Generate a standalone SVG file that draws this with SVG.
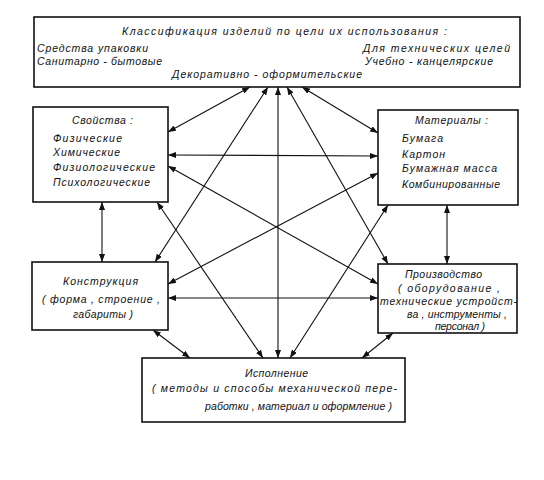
<svg xmlns="http://www.w3.org/2000/svg" width="544" height="480" viewBox="0 0 544 480">
<defs>
<marker id="ah" viewBox="0 0 8 6" refX="8" refY="3" markerWidth="8" markerHeight="6" markerUnits="userSpaceOnUse" orient="auto-start-reverse">
<path d="M0,0 L8,3 L0,6 z" fill="#111"/>
</marker>
<style>
.box{fill:#fff;stroke:#111;stroke-width:1.6}
.t{font-family:"Liberation Sans","DejaVu Sans",sans-serif;font-style:italic;font-size:10.5px;fill:#111}
.c{text-anchor:middle}
.ln{stroke:#111;stroke-width:1.1;fill:none;marker-start:url(#ah);marker-end:url(#ah)}
</style>
</defs>
<rect width="544" height="480" fill="#fff"/>
<g id="connectors">
<line class="ln" x1="250" y1="87" x2="168" y2="132"/>
<line class="ln" x1="302" y1="87" x2="378" y2="133"/>
<line class="ln" x1="168" y1="155" x2="378" y2="156"/>
<line class="ln" x1="168" y1="166" x2="378" y2="284"/>
<line class="ln" x1="378" y1="173" x2="168" y2="284"/>
<line class="ln" x1="268" y1="87" x2="155" y2="262"/>
<line class="ln" x1="287" y1="87" x2="388" y2="264"/>
<line class="ln" x1="278" y1="87" x2="278" y2="358"/>
<line class="ln" x1="157" y1="202" x2="263" y2="358"/>
<line class="ln" x1="388" y1="205" x2="290" y2="358"/>
<line class="ln" x1="168" y1="298" x2="378" y2="298"/>
<line class="ln" x1="153" y1="330" x2="190" y2="358"/>
<line class="ln" x1="393" y1="333" x2="362" y2="358"/>
<line class="ln" x1="102" y1="202" x2="102" y2="262"/>
<line class="ln" x1="447" y1="205" x2="447" y2="264"/>
</g>
<g id="classification">
<rect class="box" x="34" y="17" width="486" height="70"/>
<text class="t" x="122" y="35" textLength="325" lengthAdjust="spacing">Классификация изделий по цели их использования :</text>
<text class="t" x="37" y="52" textLength="111" lengthAdjust="spacing">Средства упаковки</text>
<text class="t" x="37" y="65" textLength="125" lengthAdjust="spacing">Санитарно - бытовые</text>
<text class="t" x="363" y="52" textLength="147" lengthAdjust="spacing">Для технических целей</text>
<text class="t" x="365" y="65" textLength="128" lengthAdjust="spacing">Учебно - канцелярские</text>
<text class="t" x="172" y="78" textLength="190" lengthAdjust="spacing">Декоративно - оформительские</text>
</g>
<g id="svoistva">
<rect class="box" x="33" y="107" width="135" height="95"/>
<text class="t" x="72" y="124" textLength="61" lengthAdjust="spacing">Свойства :</text>
<text class="t" x="53" y="142" textLength="69" lengthAdjust="spacing">Физические</text>
<text class="t" x="53" y="156" textLength="67" lengthAdjust="spacing">Химические</text>
<text class="t" x="53" y="171" textLength="102" lengthAdjust="spacing">Физиологические</text>
<text class="t" x="53" y="186" textLength="97" lengthAdjust="spacing">Психологические</text>
</g>
<g id="materialy">
<rect class="box" x="378" y="110" width="140" height="95"/>
<text class="t" x="415" y="124" textLength="73" lengthAdjust="spacing">Материалы :</text>
<text class="t" x="402" y="142" textLength="41" lengthAdjust="spacing">Бумага</text>
<text class="t" x="402" y="158" textLength="43" lengthAdjust="spacing">Картон</text>
<text class="t" x="402" y="172" textLength="95" lengthAdjust="spacing">Бумажная масса</text>
<text class="t" x="402" y="188" textLength="98" lengthAdjust="spacing">Комбинированные</text>
</g>
<g id="konstrukcia">
<rect class="box" x="32" y="262" width="136" height="68"/>
<text class="t" x="63" y="285" textLength="75" lengthAdjust="spacing">Конструкция</text>
<text class="t" x="42" y="303" textLength="118" lengthAdjust="spacing">( форма , строение ,</text>
<text class="t" x="73" y="318" textLength="60" lengthAdjust="spacing">габариты )</text>
</g>
<g id="proizvodstvo">
<rect class="box" x="378" y="264" width="139" height="69"/>
<text class="t" x="405" y="278" textLength="77" lengthAdjust="spacing">Производство</text>
<text class="t" x="398" y="292" textLength="102" lengthAdjust="spacing">( оборудование ,</text>
<text class="t" x="380" y="305" textLength="137" lengthAdjust="spacing">технические устройст-</text>
<text class="t" x="407" y="318" textLength="100" lengthAdjust="spacing">ва , инструменты ,</text>
<text class="t" x="435" y="330" textLength="50" lengthAdjust="spacing">персонал )</text>
</g>
<g id="ispolnenie">
<rect class="box" x="142" y="358" width="263" height="64"/>
<text class="t" x="245" y="377" textLength="63" lengthAdjust="spacing">Исполнение</text>
<text class="t" x="152" y="392" textLength="245" lengthAdjust="spacing">( методы и способы механической пере-</text>
<text class="t" x="205" y="410" textLength="187" lengthAdjust="spacing">работки , материал и оформление )</text>
</g>
</svg>
